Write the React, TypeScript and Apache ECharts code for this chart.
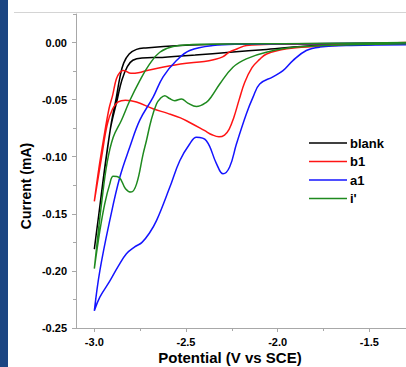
import React, { useEffect, useRef } from "react";
import * as echarts from "echarts";

const seriesNames = ["blank", "b1", "a1", "i'"];
const seriesColors = ["#000000", "#ff1414", "#1414ff", "#1f8a1f"];

const xMajorTicks = [-3.0, -2.5, -2.0, -1.5];
const xMinorTicks = [-2.75, -2.25, -1.75];
const yMajorTicks = [-0.25, -0.2, -0.15, -0.1, -0.05, 0.0];
const yMinorTicks = [-0.225, -0.175, -0.125, -0.075, -0.025, 0.025];

const blankData: number[][] = [
  [-1.3, -0.001], [-1.6, -0.0015], [-1.8, -0.0026], [-2.06, -0.006], [-2.26, -0.0085],
  [-2.45, -0.011], [-2.63, -0.013], [-2.74, -0.0135], [-2.79, -0.0155], [-2.82, -0.021],
  [-2.85, -0.033], [-2.875, -0.05], [-2.916, -0.079], [-2.988, -0.166], [-3.0, -0.181],
  [-2.985, -0.162], [-2.912, -0.075], [-2.88, -0.048], [-2.86, -0.03], [-2.84, -0.018],
  [-2.81, -0.01], [-2.77, -0.006], [-2.72, -0.0047], [-2.53, -0.0026], [-2.3, -0.0015],
  [-1.9, -0.001], [-1.3, -0.0005],
];

const b1Data: number[][] = [
  [-1.3, -0.001], [-1.6, -0.002], [-1.8, -0.0035], [-1.95, -0.0055], [-2.06, -0.01],
  [-2.1, -0.015], [-2.14, -0.022], [-2.18, -0.035], [-2.21, -0.05], [-2.24, -0.066],
  [-2.265, -0.076], [-2.29, -0.081], [-2.32, -0.0825], [-2.355, -0.081], [-2.4, -0.077],
  [-2.48, -0.07], [-2.53, -0.066], [-2.6, -0.062], [-2.68, -0.058], [-2.77, -0.052],
  [-2.83, -0.0505], [-2.87, -0.052], [-2.9, -0.058], [-2.93, -0.072], [-2.96, -0.1],
  [-3.0, -0.139],
  [-2.975, -0.11], [-2.95, -0.085], [-2.92, -0.058], [-2.9, -0.046], [-2.88, -0.032],
  [-2.86, -0.026], [-2.84, -0.0245], [-2.8, -0.027], [-2.76, -0.0265], [-2.7, -0.024],
  [-2.53, -0.0187], [-2.4, -0.0165], [-2.35, -0.015], [-2.3, -0.0125], [-2.26, -0.008],
  [-2.22, -0.0055], [-2.17, -0.0026], [-2.0, -0.0015], [-1.6, -0.001], [-1.3, 0.0],
];

const a1Data: number[][] = [
  [-1.3, -0.002], [-1.6, -0.0025], [-1.77, -0.004], [-1.844, -0.007], [-1.917, -0.0158],
  [-1.971, -0.0246], [-2.026, -0.03], [-2.098, -0.0363], [-2.135, -0.048], [-2.171, -0.0626],
  [-2.225, -0.0889], [-2.262, -0.109], [-2.298, -0.115], [-2.334, -0.106], [-2.389, -0.086],
  [-2.443, -0.083], [-2.48, -0.0889], [-2.534, -0.1035], [-2.589, -0.127], [-2.661, -0.156],
  [-2.7, -0.167], [-2.74, -0.175], [-2.78, -0.179], [-2.825, -0.185], [-2.87, -0.196],
  [-2.916, -0.209], [-2.97, -0.223], [-3.0, -0.235],
  [-2.97, -0.2], [-2.916, -0.156], [-2.861, -0.118], [-2.807, -0.0918], [-2.752, -0.068],
  [-2.68, -0.048], [-2.625, -0.03], [-2.552, -0.0158], [-2.48, -0.007], [-2.354, -0.0026],
  [-2.2, -0.0015], [-1.8, -0.001], [-1.3, -0.0005],
];

const iData: number[][] = [
  [-1.3, -0.001], [-1.6, -0.002], [-1.898, -0.004], [-2.062, -0.0085], [-2.171, -0.0143],
  [-2.244, -0.0216], [-2.316, -0.0363], [-2.36, -0.047], [-2.389, -0.0523], [-2.443, -0.0561],
  [-2.49, -0.053], [-2.525, -0.0494], [-2.561, -0.0509], [-2.59, -0.049], [-2.616, -0.0465],
  [-2.64, -0.049], [-2.661, -0.0538], [-2.69, -0.068], [-2.716, -0.086], [-2.734, -0.0977],
  [-2.77, -0.124], [-2.8, -0.131], [-2.83, -0.128], [-2.865, -0.118], [-2.897, -0.117],
  [-2.916, -0.124], [-2.943, -0.141], [-2.97, -0.165], [-3.0, -0.198],
  [-2.988, -0.18], [-2.96, -0.14], [-2.93, -0.105], [-2.897, -0.083], [-2.852, -0.068],
  [-2.807, -0.051], [-2.752, -0.0333], [-2.698, -0.0187], [-2.643, -0.0085], [-2.57, -0.0035],
  [-2.4, -0.0015], [-1.8, -0.0008], [-1.3, 0.0],
];

const allData = [blankData, b1Data, a1Data, iData];

const FONT = "'Liberation Sans', Arial, sans-serif";

export default function App() {
  const ref = useRef<HTMLDivElement>(null);
  useEffect(() => {
    if (!ref.current) return;
    const chart = echarts.init(ref.current, null, { renderer: "svg" });
    const axisGrey = "#a8a8a8";
    chart.setOption({
      animation: false,
      backgroundColor: "#ffffff",
      grid: { left: 76, right: 0, top: 14, bottom: 39, containLabel: false },
      xAxis: [
        {
          type: "value",
          min: -3.1,
          max: -1.3,
          position: "bottom",
          axisLine: { show: true, onZero: false, lineStyle: { color: axisGrey, width: 1 } },
          axisTick: { show: true, length: 4, customValues: xMajorTicks, lineStyle: { color: axisGrey } },
          axisLabel: {
            customValues: xMajorTicks,
            formatter: (v: number) => v.toFixed(1),
            color: "#000",
            fontWeight: "bold",
            fontSize: 11,
            fontFamily: FONT,
            margin: 8,
          },
          splitLine: { show: false },
        },
        {
          type: "value",
          min: -3.1,
          max: -1.3,
          position: "bottom",
          axisLine: { show: false, onZero: false },
          axisTick: { show: true, length: 3, customValues: xMinorTicks, lineStyle: { color: axisGrey } },
          axisLabel: { show: false },
          splitLine: { show: false },
        },
      ],
      yAxis: [
        {
          type: "value",
          min: -0.25,
          max: 0.025,
          position: "left",
          axisLine: { show: true, onZero: false, lineStyle: { color: axisGrey, width: 1 } },
          axisTick: { show: true, length: 4, customValues: yMajorTicks, lineStyle: { color: axisGrey } },
          axisLabel: {
            customValues: yMajorTicks,
            formatter: (v: number) => (Math.abs(v) < 1e-9 ? "0.00" : v.toFixed(2)),
            color: "#000",
            fontWeight: "bold",
            fontSize: 11,
            fontFamily: FONT,
            margin: 9,
          },
          splitLine: { show: false },
        },
        {
          type: "value",
          min: -0.25,
          max: 0.025,
          position: "left",
          axisLine: { show: false, onZero: false },
          axisTick: { show: true, length: 3, customValues: yMinorTicks, lineStyle: { color: axisGrey } },
          axisLabel: { show: false },
          splitLine: { show: false },
        },
      ],
      legend: {
        orient: "vertical",
        left: 304,
        top: 131,
        itemWidth: 38,
        itemHeight: 14,
        itemGap: 4.5,
        icon: "path://M0,6.5 L35,6.5 L35,8 L0,8 Z",
        data: seriesNames,
        textStyle: { color: "#000", fontWeight: "bold", fontSize: 13, fontFamily: FONT, lineHeight: 14, padding: [0, 0, 0, -2] },
      },
      graphic: [
        { type: "rect", shape: { x: 0, y: 0, width: 8, height: 367 }, style: { fill: "#1b4582" }, z: 10 },
        { type: "line", shape: { x1: 14, y1: 12.5, x2: 406, y2: 12.5 }, style: { stroke: "#d4d4d4", lineWidth: 1 } },
        {
          type: "text",
          x: 230,
          y: 357,
          style: {
            text: "Potential (V vs SCE)",
            fontSize: 15,
            fontWeight: "bold",
            fontFamily: FONT,
            fill: "#000",
            align: "center",
            verticalAlign: "middle",
          },
        },
        {
          type: "text",
          x: 26,
          y: 186,
          rotation: Math.PI / 2,
          style: {
            text: "Current (mA)",
            fontSize: 14,
            fontWeight: "bold",
            fontFamily: FONT,
            fill: "#000",
            align: "center",
            verticalAlign: "middle",
          },
        },
      ],
      series: seriesNames.map((name, i) => ({
        name,
        type: "line",
        xAxisIndex: 0,
        yAxisIndex: 0,
        data: allData[i],
        smooth: 0.4,
        symbol: "none",
        showSymbol: false,
        lineStyle: { color: seriesColors[i], width: 1.5 },
        itemStyle: { color: seriesColors[i] },
        clip: true,
      })),
    });
    return () => chart.dispose();
  }, []);
  return (
    <div
      ref={ref}
      style={{ position: "fixed", left: 0, top: 0, width: 406, height: 367 }}
    />
  );
}
